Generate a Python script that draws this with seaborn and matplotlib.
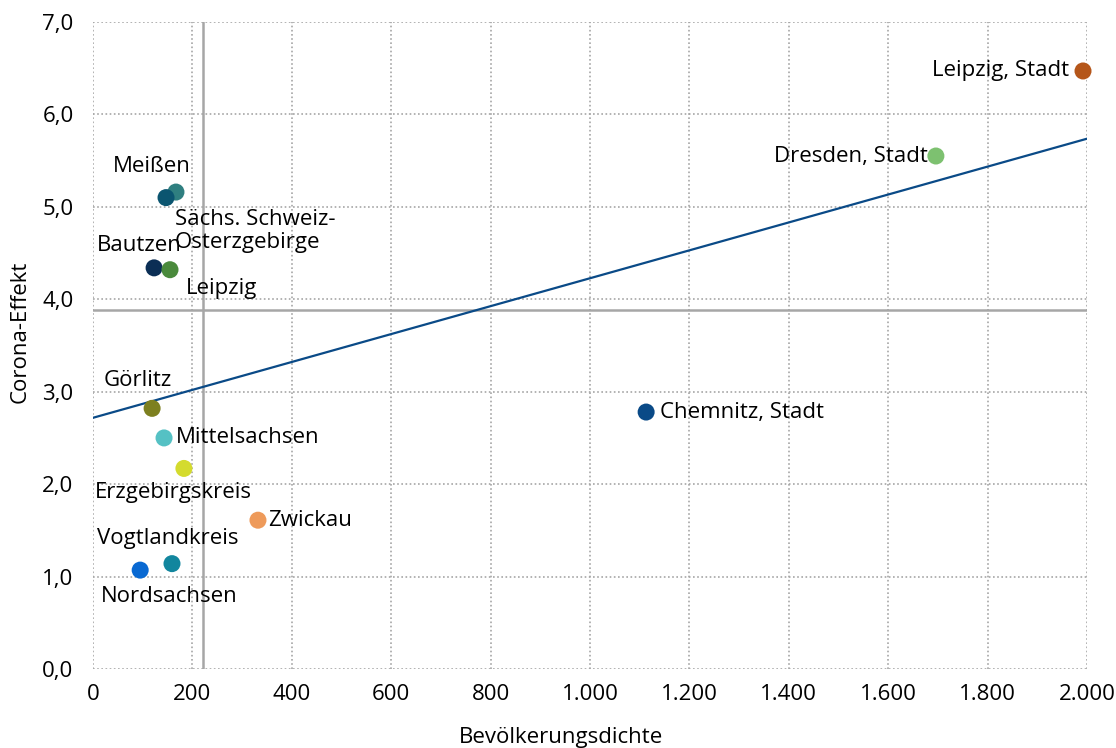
import matplotlib
matplotlib.use("Agg")
import matplotlib.pyplot as plt
import matplotlib.ticker as mticker
import seaborn as sns
import pandas as pd

# Landkreise / kreisfreie Städte in Sachsen
kreise = ["Leipzig, Stadt", "Dresden, Stadt", "Chemnitz, Stadt", "Meißen",
          "Sächs. Schweiz-\nOsterzgebirge", "Bautzen", "Leipzig", "Görlitz",
          "Mittelsachsen", "Erzgebirgskreis", "Zwickau", "Vogtlandkreis", "Nordsachsen"]
dichte = [1992, 1696, 1113, 167, 147, 123, 155, 119, 143, 183, 332, 159, 95]
effekt = [6.47, 5.55, 2.78, 5.16, 5.10, 4.34, 4.32, 2.82, 2.50, 2.17, 1.61, 1.14, 1.07]
farben = ["#B5561A", "#7DC170", "#0A4A87", "#2F7F80", "#0B5570", "#0B2E55", "#4A8A3C",
          "#7D8020", "#55C1C4", "#D4DB2E", "#EE9A5A", "#12869E", "#0969D2"]

mittel_dichte = 221
mittel_effekt = 3.88

# label offsets in pixels (dx, dy) and alignment
offsets = [(-14, 0, "right"), (-8, 0, "right"), (14, 0, "left"), (-24, 26, "center"),
           (9, -33, "left"), (-15, 22, "center"), (16, -19, "left"), (-14, 28, "center"),
           (12, 0, "left"), (-11, -24, "center"), (10, 0, "left"), (-4, 25, "center"),
           (29, -26, "center")]

df = pd.DataFrame({"kreis": kreise, "dichte": dichte, "effekt": effekt})

sns.set_style("white")
plt.rcParams["font.family"] = ["Open Sans", "DejaVu Sans"]

fig = plt.figure(figsize=(11.16, 7.48), dpi=100)
ax = fig.add_axes([0.0833, 0.1056, 0.8907, 0.865])
ax.set_xlim(0, 2000)
ax.set_ylim(0, 7)

ax.grid(True, color="#A6A6A6", linestyle=(0, (1, 1.5)), linewidth=1.2)
ax.set_axisbelow(True)
for s in ax.spines.values():
    s.set_visible(False)

ax.axvline(mittel_dichte, color="#A6A6A6", linewidth=1.8, zorder=1)
ax.axhline(mittel_effekt, color="#A6A6A6", linewidth=1.8, zorder=1)

sns.regplot(data=df, x="dichte", y="effekt", scatter=False, ci=None, truncate=False,
            ax=ax, line_kws={"color": "#0A4A87", "linewidth": 1.6, "zorder": 2})

sns.scatterplot(data=df, x="dichte", y="effekt", hue="kreis", palette=farben,
                s=150, edgecolor="none", legend=False, ax=ax, zorder=3, clip_on=False)

for k, x, y, (dx, dy, ha) in zip(kreise, dichte, effekt, offsets):
    ax.annotate(k, (x, y), xytext=(dx, dy), textcoords="offset pixels",
                ha=ha, va="center", fontsize=16, color="#000000", linespacing=1.12)

ax.xaxis.set_major_locator(mticker.MultipleLocator(200))
ax.yaxis.set_major_locator(mticker.MultipleLocator(1))
ax.xaxis.set_major_formatter(mticker.FuncFormatter(lambda v, p: f"{v:,.0f}".replace(",", ".")))
ax.yaxis.set_major_formatter(mticker.FuncFormatter(lambda v, p: f"{v:.1f}".replace(".", ",")))
ax.tick_params(axis="both", length=0, labelsize=16, labelcolor="#000000")
ax.tick_params(axis="x", pad=11)
ax.tick_params(axis="y", pad=14)

ax.set_xlabel("Bevölkerungsdichte", fontsize=16, color="#000000")
ax.set_ylabel("Corona-Effekt", fontsize=16, color="#000000")
ax.xaxis.set_label_coords((561 - 93) / 994, -0.089)
ax.yaxis.set_label_coords(-0.063, 0.521)

fig.savefig("out.png", dpi=100)
